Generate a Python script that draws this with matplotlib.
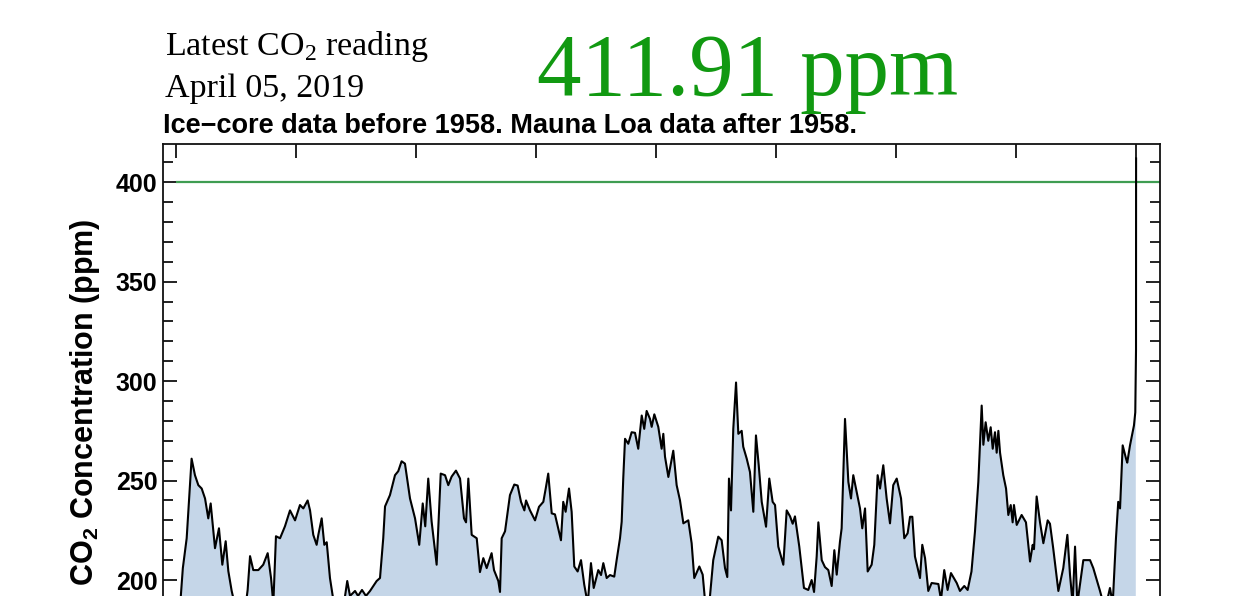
import matplotlib
matplotlib.use("Agg")
import matplotlib.pyplot as plt
from matplotlib.ticker import MultipleLocator

plt.rcParams['mathtext.fontset'] = 'custom'
plt.rcParams['mathtext.rm'] = 'Liberation Serif'
plt.rcParams['mathtext.bf'] = 'Liberation Sans:bold'

# ---- data: ice-core record (thousand years before present, ppm) ----
ice_kyr = [-800, -796.7, -794.3, -791.1, -787.0, -784.2, -781.4, -778.6, -775.8, -773.1,
           -771.1, -767.5, -764.2, -761.4, -758.6, -756.4, -753.6, -750, -746, -742,
           -740.3, -738.3, -735.6, -731.4, -727.3, -723.6, -720.8, -718.9, -716.7, -713.3,
           -709.2, -705, -700.8, -696.7, -693.9, -690.3, -688.3, -685.6, -682.8, -681.4,
           -678.6, -676.4, -674.4, -671.7, -668.9, -665, -660.8, -657.3, -655, -650.8,
           -648.3, -645, -641.7, -638.3, -632.8, -630, -627.3, -625.8, -621.7, -617.5,
           -614.8, -612, -609.2, -605, -600.8, -597.3, -594.4, -592.3, -589.8, -587,
           -582.8, -579.4, -575.8, -573.1, -570.3, -566.7, -563.3, -560, -558.3, -556.4,
           -553.6, -549.4, -546.7, -543.9, -541.1, -537, -535, -531.4, -530, -528.6,
           -525.8, -521.7, -518.1, -515.3, -512.5, -509.7, -508.3, -505, -500.8, -497.5,
           -493.9, -491.9, -489.8, -486.9, -484.2, -480.8, -479.2, -477.3, -475.3, -472.5,
           -470.3, -468.1, -465.3, -462.5, -459.8, -456.9, -454.2, -451.9, -448.1, -445.8,
           -443.9, -441.1, -438.3, -434.8, -432.8, -430, -428.6, -427.3, -425.8, -423.1,
           -420.3, -417.5, -414.8, -411.9, -409.8, -407.8, -405, -403.6, -401.4, -398.1,
           -395.3, -393.9, -392.5, -389.7, -385.6, -382.8, -380, -377.2, -373.1, -370.3,
           -368.1, -363.9, -361.1, -359.2, -355.6, -352.3, -348.1, -345.3, -342.5, -340.6,
           -339.2, -337.5, -335.6, -333.3, -331.4, -328.6, -327.3, -324.4, -321.7, -318.9,
           -316.7, -314.4, -311.9, -308.3, -305.6, -302.8, -300.8, -298.1, -293.9, -291.1,
           -288.3, -286.1, -284.2, -280.6, -276.7, -273.1, -270.3, -268.3, -266.1, -264.7,
           -261.9, -259.2, -256.4, -253.6, -251.4, -249.4, -246.7, -245.3, -242.5, -239.7,
           -237.5, -235.6, -232.8, -230, -228.1, -225.8, -223.6, -220.3, -218.1, -215.3,
           -213.3, -210.6, -207.8, -205, -202.3, -199.4, -195.8, -193.1, -190.3, -188.3,
           -186.4, -184.2, -180, -178.1, -175.8, -173.1, -170.3, -164.7, -162.5, -159.8,
           -157, -154.2, -149.4, -146.7, -143.1, -140.3, -137.1, -134.2, -131.4, -128.6,
           -127.2, -125.3, -123.1, -121.1, -119.4, -117.5, -116.1, -114.7, -113.3, -110.6,
           -108.3, -106.4, -104.4, -102.8, -101.7, -99.4, -95.3, -91.7, -88.3, -86.1,
           -85, -82.8, -80, -77.2, -73.6, -71.7, -69, -64.7, -60.6, -57.2,
           -55, -52.8, -50.8, -48.9, -43.9, -38.3, -35.6, -30, -25.8, -21.7,
           -19.4, -16.7, -14.8, -13.3, -11.1, -8.3, -7.3, -5, -2.8, -1.7,
           -0.6]
ice_ppm = [189, 186, 206, 221, 261, 252.7, 247.7, 246, 241, 231,
           238.5, 216, 226, 207.7, 219.5, 204.5, 194.5, 185, 182, 187,
           195, 212, 205, 205, 207.7, 213.5, 201, 188, 222, 221,
           227, 235, 230, 237.7, 236, 240, 235, 222.7, 217.7, 222.7,
           231, 217.7, 219, 201, 190, 182, 185, 199.5, 192, 194.5,
           192, 195, 192, 194.5, 199.5, 201, 221, 237, 242.7, 252.7,
           254.7, 259.7, 258.5, 241, 231, 217.7, 238.5, 227, 251, 229.5,
           207.7, 253.5, 252.7, 247.7, 252, 255, 251, 231, 229, 251,
           222.7, 221, 204, 211, 206, 213.5, 205, 199.5, 194, 221,
           224.5, 242.7, 248, 247.5, 239.3, 235, 240, 235, 230, 236.8,
           239.3, 246, 253.5, 233.5, 233, 224.3, 220, 239.3, 234.3, 246,
           234.3, 206.8, 204.3, 210, 197.7, 188, 208.5, 196, 205, 202.5,
           208.5, 201, 202.5, 201.7, 210, 221, 229.3, 251, 271, 268.5,
           274.3, 274, 266, 282.7, 276, 285, 281, 277, 283.3, 277,
           266, 273.5, 262, 251.8, 265, 247.7, 240, 228.5, 230, 218.5,
           201, 206.8, 202.7, 190, 188, 210, 221.8, 220, 206, 201.5,
           251, 235, 276, 299.3, 273.5, 275, 267, 261, 254.3, 234.3,
           272.7, 257.7, 239.3, 226.8, 251, 239.3, 237.7, 216.8, 207.7, 235,
           232, 228.3, 232, 216.8, 196, 195, 200, 194, 211.8, 229,
           210, 206.5, 205, 197, 215, 202.7, 219.3, 226, 281, 249.3,
           241, 252.7, 244.3, 236, 226, 236, 204.3, 207.7, 217.7, 252.7,
           246, 257.7, 241, 228.5, 247.7, 251, 241, 221, 223.5, 231.8,
           231.8, 211.8, 201, 217.7, 211, 194.5, 198.5, 198, 190, 205,
           195, 203.5, 198.5, 194.5, 197, 195, 204.3, 224.3, 249.3, 287.7,
           268, 279.3, 270, 276.8, 266, 274.3, 264, 275, 264, 252.7,
           246, 232.7, 237.7, 229, 237.7, 227.7, 232.7, 229, 209.3, 217.7,
           215.5, 242, 229, 218.5, 230, 228.3, 216, 194.5, 206, 222.7,
           202.7, 188, 216.8, 188, 210, 210, 206, 194.5, 185, 196,
           188, 221, 239.3, 236, 267.7, 261, 259, 267.7, 274.3, 277.7,
           284.3]

# ---- Mauna Loa record (years 1958-2019 expressed as kyr relative to 1950) ----
ml_kyr = [0.008, 0.030, 0.050, 0.069]
ml_ppm = [315.7, 338.7, 369.5, 411.91]

latest_value = "411.91 ppm"
latest_date = "April 05, 2019"
reference_level = 400

# ---- figure ----
fig = plt.figure(figsize=(12.42, 5.96), dpi=100)
ax = fig.add_axes([0.13124, -0.1067, 0.80274, 0.8651])

x_ice = [k * 1000 for k in ice_kyr]
x_ml = [k * 1000 for k in ml_kyr]

ax.fill_between(x_ice, ice_ppm, 100, color='#c5d6e8', lw=0, zorder=1)
ax.plot(x_ice + x_ml, ice_ppm + ml_ppm, color='black', lw=1.5, zorder=3)
ax.hlines(reference_level, -800000, 20000, color='#3f9d52', lw=1.6, zorder=2)

ax.set_xlim(-810833, 20000)
ax.set_ylim(160, 419.2)

ax.yaxis.set_major_locator(MultipleLocator(50))
ax.yaxis.set_minor_locator(MultipleLocator(10))
ax.xaxis.set_major_locator(MultipleLocator(100000))
ax.tick_params(which='both', direction='in', top=True, right=True, width=1.3,
               color='#111111', labelcolor='black')
ax.tick_params(which='major', length=10, pad=4)
ax.tick_params(which='minor', length=7)
ax.tick_params(axis='x', which='minor', length=0)
for lbl in ax.get_yticklabels():
    lbl.set_fontfamily('Liberation Sans')
    lbl.set_fontweight('bold')
    lbl.set_fontsize(18)
ax.set_xticklabels([])
for s in ax.spines.values():
    s.set_linewidth(1.3)
    s.set_color('#111111')

ax.set_ylabel(r"CO$_\mathbf{2}$ Concentration (ppm)", fontfamily='Liberation Sans',
              fontweight='bold', fontsize=22, labelpad=10)

W, H = 1242, 596
fig.text(163 / W, 1 - 133 / H, "Ice\u2212core data before 1958. Mauna Loa data after 1958.",
         fontfamily='Liberation Sans', fontweight='bold', fontsize=19.5, va='baseline', ha='left')
fig.text(165 / W, 1 - 55 / H, r"Latest CO$_\mathrm{2}$ reading", fontfamily='Liberation Serif',
         fontsize=24.5, va='baseline', ha='left')
fig.text(165 / W, 1 - 97 / H, latest_date, fontfamily='Liberation Serif',
         fontsize=24.5, va='baseline', ha='left')
fig.text(537 / W, 1 - 95 / H, latest_value, fontfamily='Liberation Serif',
         fontsize=64, color='#119911', va='baseline', ha='left')

fig.savefig("out.png", dpi=100)
